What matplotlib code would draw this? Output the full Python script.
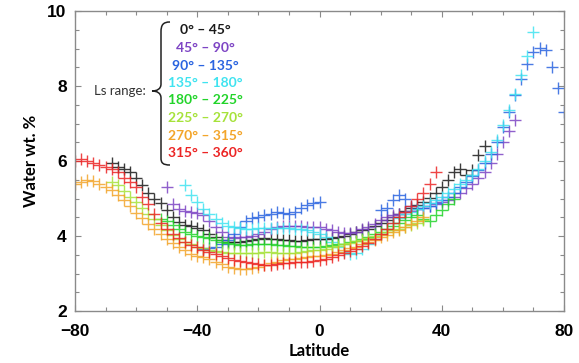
import matplotlib
matplotlib.use("Agg")
import matplotlib.pyplot as plt
from matplotlib.path import Path
from matplotlib.patches import PathPatch
from matplotlib.ticker import MultipleLocator

# ---------------- data ----------------
labels = ["0° – 45°", "45° – 90°", "90° – 135°", "135° – 180°",
          "180° – 225°", "225° – 270°", "270° – 315°", "315° – 360°"]
colors = ["#1a1a1a", "#7d44c4", "#2a64e0", "#3fe3f0",
          "#22d42a", "#a6e23a", "#f3a52a", "#ec2424"]

lat_black = list(range(-68, 55, 2))
val_black = [5.95, 5.85, 5.78, 5.7, 5.55, 5.35, 5.15, 5.0, 4.87, 4.7, 4.52, 4.38, 4.3, 4.27,
             4.22, 4.15, 4.05, 3.97, 3.9, 3.85, 3.85, 3.85, 3.87, 3.9, 3.93, 3.95, 3.93, 3.92,
             3.9, 3.9, 3.88, 3.88, 3.9, 3.92, 3.92, 3.93, 3.95, 3.97, 4.0, 4.05, 4.1, 4.15,
             4.2, 4.28, 4.35, 4.42, 4.5, 4.58, 4.66, 4.75, 4.83, 4.92, 5.02, 5.15, 5.3, 5.5,
             5.7, 5.78, 5.62, 5.75, 6.15, 6.4]

lat_purple = list(range(-50, 65, 2))
val_purple = [5.3, 4.85, 4.72, 4.67, 4.65, 4.62, 4.55, 4.4, 4.25, 4.1, 3.98, 3.95, 3.97,
              3.98, 4.0, 4.05, 4.12, 4.2, 4.25, 4.27, 4.28, 4.28, 4.27, 4.25, 4.24, 4.23,
              4.2, 4.15, 4.1, 4.07, 4.08, 4.12, 4.18, 4.25, 4.33, 4.42, 4.5, 4.55, 4.6, 4.63,
              4.67, 4.72, 4.76, 4.8, 4.85, 4.9, 4.97, 5.05, 5.15, 5.28, 5.4, 5.55, 5.72, 5.95,
              6.2, 6.5, 6.8, 7.1]

lat_blue_s = list(range(-38, 1, 2))
val_blue_s = [3.65, 3.68, 3.72, 3.8, 3.9, 4.05, 4.25, 4.4, 4.47, 4.52, 4.55, 4.6, 4.65,
              4.62, 4.6, 4.65, 4.74, 4.82, 4.88, 4.9]
lat_blue_n = list(range(20, 81, 2))
val_blue_n = [4.7, 4.75, 4.95, 5.1, 5.0, 4.8, 4.72, 4.75, 4.8, 4.87, 4.95, 5.05, 5.15, 5.3,
              5.45, 5.6, 5.75, 5.95, 6.2, 6.5, 6.9, 7.3, 7.75, 8.2, 8.6, 8.9, 9.02, 8.95,
              8.5, 7.95, 7.3]

lat_cyan = list(range(-44, 71, 2))
val_cyan = [5.35, 5.1, 4.9, 4.72, 4.58, 4.45, 4.35, 4.28, 4.25, 4.22, 4.2, 4.2, 4.22, 4.22,
            4.22, 4.22, 4.22, 4.22, 4.2, 4.18, 4.15, 4.1, 4.05, 3.98, 3.85, 3.7, 3.58, 3.52,
            3.55, 3.65, 3.78, 3.92, 4.05, 4.2, 4.35, 4.48, 4.58, 4.65, 4.72, 4.8, 4.88, 4.96,
            5.05, 5.15, 5.25, 5.38, 5.5, 5.62, 5.78, 6.0, 6.25, 6.55, 6.95, 7.35, 7.8, 8.3,
            8.8, 9.45]

lat_green = list(range(-52, 45, 2))
val_green = [4.45, 4.4, 4.3, 4.2, 4.12, 4.05, 4.0, 3.97, 3.95, 3.9, 3.85, 3.82, 3.78, 3.76,
             3.77, 3.8, 3.8, 3.8, 3.78, 3.76, 3.75, 3.74, 3.73, 3.72, 3.72, 3.72, 3.72, 3.73,
             3.75, 3.78, 3.8, 3.83, 3.87, 3.92, 3.98, 4.05, 4.12, 4.2, 4.28, 4.35, 4.42, 4.5,
             4.55, 4.45, 4.4, 4.55, 4.7, 4.85, 5.0]

lat_ygreen = list(range(-68, 35, 2))
val_ygreen = [5.45, 5.35, 5.2, 5.05, 4.9, 4.75, 4.6, 4.45, 4.3, 4.15, 4.03, 3.93, 3.85,
              3.78, 3.72, 3.67, 3.63, 3.6, 3.57, 3.55, 3.55, 3.55, 3.55, 3.55, 3.56, 3.57,
              3.57, 3.56, 3.55, 3.55, 3.56, 3.58, 3.6, 3.62, 3.64, 3.66, 3.7, 3.74, 3.78,
              3.82, 3.86, 3.9, 3.95, 4.0, 4.05, 4.1, 4.15, 4.2, 4.25, 4.3, 4.35, 4.42]

lat_orange = list(range(-80, 35, 2))
val_orange = [5.4, 5.45, 5.48, 5.47, 5.4, 5.32, 5.22, 5.1, 4.95, 4.8, 4.62, 4.47, 4.33, 4.2,
              4.05, 3.92, 3.82, 3.72, 3.62, 3.53, 3.47, 3.43, 3.38, 3.32, 3.25, 3.18, 3.15,
              3.13, 3.13, 3.15, 3.18, 3.22, 3.27, 3.32, 3.36, 3.38, 3.4, 3.42, 3.44, 3.46,
              3.48, 3.5, 3.53, 3.57, 3.62, 3.67, 3.72, 3.78, 3.84, 3.9, 3.97, 4.04, 4.1, 4.17,
              4.24, 4.32, 4.4, 4.5]

lat_red = list(range(-80, 39, 2))
val_red = [6.0, 6.05, 6.0, 5.95, 5.9, 5.85, 5.78, 5.7, 5.55, 5.45, 5.3, 5.05, 4.85, 4.6,
           4.35, 4.2, 4.05, 3.95, 3.85, 3.77, 3.7, 3.63, 3.57, 3.52, 3.47, 3.42, 3.37, 3.33,
           3.3, 3.27, 3.25, 3.23, 3.24, 3.26, 3.27, 3.28, 3.3, 3.31, 3.32, 3.34, 3.36, 3.4,
           3.44, 3.49, 3.55, 3.6, 3.66, 3.73, 3.82, 3.93, 4.05, 4.2, 4.35, 4.5, 4.65, 4.8,
           4.98, 5.15, 5.38, 5.72]

series = [
    [(lat_black, val_black)],
    [(lat_purple, val_purple)],
    [(lat_blue_s, val_blue_s), (lat_blue_n, val_blue_n)],
    [(lat_cyan, val_cyan)],
    [(lat_green, val_green)],
    [(lat_ygreen, val_ygreen)],
    [(lat_orange, val_orange)],
    [(lat_red, val_red)],
]

x_ticks = [-80, -40, 0, 40, 80]
y_ticks = [2, 4, 6, 8, 10]

# ---------------- figure ----------------
W, H = 579, 363
fig = plt.figure(figsize=(W / 100, H / 100), dpi=100)
ax = fig.add_axes([75 / W, 1 - 311 / H, (564 - 75) / W, (311 - 11) / H])

for segs, c in zip(series, colors):
    for lx, vy in segs:
        ax.plot(lx, vy, linestyle="none", marker="+", markersize=8,
                markeredgewidth=1.0, color=c, alpha=0.85)

ax.set_xlim(-80, 80)
ax.set_ylim(2, 10)
ax.set_xticks(x_ticks)
ax.set_yticks(y_ticks)
ax.xaxis.set_minor_locator(MultipleLocator(10))
ax.yaxis.set_minor_locator(MultipleLocator(0.5))
ax.tick_params(which="both", direction="in", top=True, right=True,
               color="#8a8a8a", width=0.8)
ax.tick_params(which="major", length=4)
ax.tick_params(which="minor", length=3)
ax.tick_params(axis="x", pad=9)
ax.tick_params(axis="y", pad=6)
for lab in ax.get_xticklabels() + ax.get_yticklabels():
    lab.set_fontfamily("Liberation Sans")
    lab.set_fontweight("bold")
    lab.set_fontsize(12.5)
for s in ax.spines.values():
    s.set_color("#8a8a8a")
    s.set_linewidth(1.0)

ax.set_xlabel("Latitude", fontfamily="Lato", fontweight="bold", fontsize=12, labelpad=3)
ax.set_ylabel("Water wt. %", fontfamily="Lato", fontweight="bold", fontsize=12, labelpad=6)

# legend-like annotation
fig.text(120 / W, 1 - 91 / H, "Ls range:", fontfamily="Lato", fontsize=9.5,
         color="#333333", ha="center", va="center")
ys = [30, 48, 66, 83, 100, 118, 136, 153]
for lbl, c, yy in zip(labels, colors, ys):
    fig.text(205 / W, 1 - yy / H, lbl, fontfamily="Lato", fontweight="bold",
             fontsize=10, color=c, ha="center", va="center")

pts = [(170, 22), (163, 22), (161, 25), (161, 32), (161, 84),
       (161, 89), (157, 91), (152, 91), (157, 91), (161, 93), (161, 98),
       (161, 158), (161, 163), (163, 165), (170, 165)]
codes = [Path.MOVETO, Path.CURVE4, Path.CURVE4, Path.CURVE4, Path.LINETO,
         Path.CURVE4, Path.CURVE4, Path.CURVE4, Path.CURVE4, Path.CURVE4, Path.CURVE4,
         Path.LINETO, Path.CURVE4, Path.CURVE4, Path.CURVE4]
verts = [(x / W, 1 - y / H) for x, y in pts]
fig.patches.append(PathPatch(Path(verts, codes), transform=fig.transFigure,
                             fill=False, edgecolor="#222222", linewidth=1.1))

fig.savefig("out.png", dpi=100)
